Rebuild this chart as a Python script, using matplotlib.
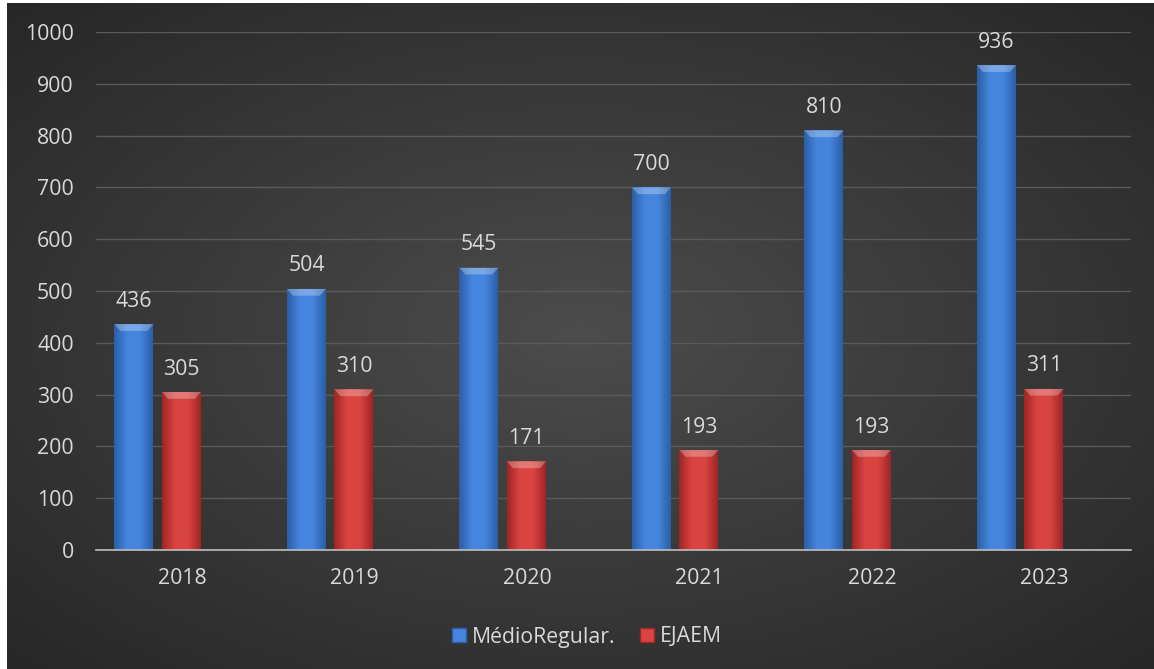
import numpy as np
import matplotlib
matplotlib.use("Agg")
import matplotlib.pyplot as plt
from matplotlib.patches import Polygon, Rectangle
from matplotlib.colors import LinearSegmentedColormap

plt.rcParams['font.family'] = ['Open Sans', 'DejaVu Sans']

years = ['2018', '2019', '2020', '2021', '2022', '2023']
medio = [436, 504, 545, 700, 810, 936]
ejaem = [305, 310, 171, 193, 193, 311]
series_names = ['MédioRegular.', 'EJAEM']

blue = ['#2c5fa8', '#4585de', '#4585de', '#2c5fa8']
red = ['#a02626', '#d94441', '#d94441', '#a02626']
text_col = '#d9d9d9'
fs = 15.3

fig = plt.figure(figsize=(11.54, 6.69), dpi=100)
fig.patch.set_facecolor('white')

# radial dark background
bg = fig.add_axes([7 / 1154, 0, 1 - 7 / 1154, 1 - 3 / 669])
yy, xx = np.mgrid[-1:1:300j, -1:1:500j]
r = np.sqrt(xx ** 2 + yy ** 2)
bg.imshow(r, cmap=LinearSegmentedColormap.from_list('bgc', ['#4c4c4c', '#262626']),
          aspect='auto', extent=[0, 1, 0, 1], vmin=0, vmax=1.45)
bg.set_axis_off()

ax = fig.add_axes([96 / 1154, 1 - 550 / 669, (1131 - 96) / 1154, (550 - 32) / 669])
ax.patch.set_alpha(0)

x = np.arange(len(years))
w = 0.226


def draw_bars(xpos, vals, cols):
    cm = LinearSegmentedColormap.from_list('c', cols)
    grad = np.linspace(0, 1, 50).reshape(1, -1)
    for xi, v in zip(xpos, vals):
        left = xi - w / 2
        rect = Rectangle((left, 0), w, v, facecolor=cols[1], edgecolor='none', zorder=3)
        ax.add_patch(rect)
        im = ax.imshow(grad, cmap=cm, extent=[left, left + w, 0, v], aspect='auto', zorder=3.1)
        im.set_clip_path(rect)
        # top bevel
        b = 13
        bev = Polygon([[left, v], [left + w, v], [left + w - 0.035, v - b], [left + 0.035, v - b]],
                      closed=True, facecolor='white', alpha=0.28, edgecolor='none', zorder=3.2)
        ax.add_patch(bev)
        ax.annotate(str(v), (xi, v), xytext=(0, 9), textcoords='offset points',
                    ha='center', va='bottom', fontsize=fs, color=text_col, zorder=4)


# 3D-style offset: bars sit left of the category centre
draw_bars(x - 0.28, medio, blue)
draw_bars(x - 0.005, ejaem, red)

ax.set_xlim(-0.5, len(years) - 0.5)
ax.set_ylim(0, 1000)
ax.set_yticks(range(0, 1001, 100))
ax.set_xticks(x)
ax.set_xticklabels(years)
ax.tick_params(colors=text_col, labelsize=fs, length=0)
ax.tick_params(axis='y', pad=16)
ax.tick_params(axis='x', pad=13)
ax.grid(axis='y', color='#5a5a5a', linewidth=1, zorder=0)
ax.set_axisbelow(True)
for s in ['top', 'right', 'left']:
    ax.spines[s].set_visible(False)
ax.spines['bottom'].set_color('#bfbfbf')
ax.spines['bottom'].set_linewidth(1.2)
ax.spines['bottom'].set_zorder(5)

handles = [Rectangle((0, 0), 1, 1, facecolor=blue[1], edgecolor=blue[0]),
           Rectangle((0, 0), 1, 1, facecolor=red[1], edgecolor=red[0])]
leg = fig.legend(handles, series_names, loc='center', bbox_to_anchor=(587 / 1154, 1 - 637 / 669),
                 ncol=2, frameon=False, fontsize=fs, handlelength=0.65, handleheight=0.65,
                 handletextpad=0.25, columnspacing=1.2)
for t in leg.get_texts():
    t.set_color(text_col)

fig.savefig('out.png', dpi=100)
